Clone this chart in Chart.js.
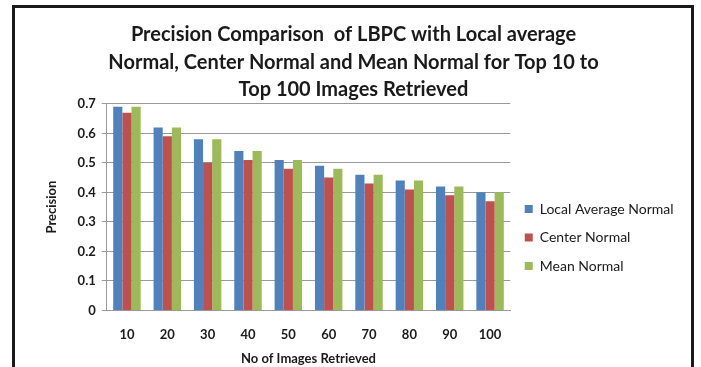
<!DOCTYPE html>
<html lang="en">
  <head>
    <meta charset="UTF-8" />
    <title>Precision Comparison</title>
    <script src="https://cdn.jsdelivr.net/npm/chart.js"></script>
    <style>
      html, body { margin: 0; background: #fff; overflow: hidden; }
      #frame {
        position: absolute; left: 12px; top: 5px; width: 676px; height: 370px;
        border: 3px solid #1a1a1a; border-bottom: none;
      }
      #wrap { position: absolute; left: 0; top: 0; width: 701px; height: 367px; }
    </style>
  </head>
  <body>
    <div id="frame"></div>
    <div id="wrap"><canvas id="precisionChart" width="701" height="367"></canvas></div>

    <script>
      const categories = ["10", "20", "30", "40", "50", "60", "70", "80", "90", "100"];
      const localAverage = [0.69, 0.62, 0.58, 0.54, 0.51, 0.49, 0.46, 0.44, 0.42, 0.40];
      const centerNormal = [0.67, 0.59, 0.50, 0.51, 0.48, 0.45, 0.43, 0.41, 0.39, 0.37];
      const meanNormal = [0.69, 0.62, 0.58, 0.54, 0.51, 0.48, 0.46, 0.44, 0.42, 0.40];
      const titleLines = [
        "Precision Comparison  of LBPC with Local average",
        "Normal, Center Normal and Mean Normal for Top 10 to",
        "Top 100 Images Retrieved"
      ];

      const fontFamily = "Lato, 'Open Sans', sans-serif";

      // push the legend down beside the middle of the plot and give its text room
      const legendShift = {
        id: "legendShift",
        afterLayout(chart) {
          const lg = chart.legend;
          lg.top += 55;
          lg.bottom += 55;
          lg.right += 30;
          lg.width += 30;
        }
      };

      new Chart(document.getElementById("precisionChart"), {
        type: "bar",
        data: {
          labels: categories,
          datasets: [
            { label: "Local Average Normal", data: localAverage, backgroundColor: "#4f81bd" },
            { label: "Center Normal", data: centerNormal, backgroundColor: "#c0504d" },
            { label: "Mean Normal", data: meanNormal, backgroundColor: "#9bbb59" }
          ]
        },
        plugins: [legendShift],
        options: {
          responsive: false,
          animation: false,
          datasets: { bar: { categoryPercentage: 0.68, barPercentage: 1 } },
          layout: { padding: { left: 40, right: 34, top: 0, bottom: 2 } },
          plugins: {
            title: {
              display: true,
              text: titleLines,
              color: "#1a1a1a",
              font: { family: fontFamily, size: 20, weight: "bold", lineHeight: 1.38 },
              padding: { top: 21, bottom: 0 }
            },
            legend: {
              position: "right",
              labels: {
                color: "#1a1a1a",
                font: { family: fontFamily, size: 14 },
                boxWidth: 8,
                boxHeight: 8,
                padding: 14.5
              }
            },
            tooltip: { enabled: false }
          },
          scales: {
            x: {
              grid: { display: false },
              border: { color: "#999" },
              ticks: { color: "#1a1a1a", font: { family: fontFamily, size: 13, weight: "bold" }, padding: 9 },
              title: {
                display: true,
                text: "No of Images Retrieved",
                color: "#1a1a1a",
                font: { family: fontFamily, size: 13, weight: "bold", lineHeight: 1 },
                padding: { top: 0, bottom: 0 }
              }
            },
            y: {
              min: 0,
              max: 0.7,
              ticks: {
                stepSize: 0.1,
                color: "#1a1a1a",
                font: { family: fontFamily, size: 13, weight: "bold" },
                padding: 6,
                callback: (v) => (v === 0 ? "0" : v.toFixed(1))
              },
              grid: { color: "#999", tickLength: 5 },
              border: { color: "#999" },
              title: {
                display: true,
                text: "Precision",
                color: "#1a1a1a",
                font: { family: fontFamily, size: 13, weight: "bold" },
                padding: { bottom: 12 }
              }
            }
          }
        }
      });
    </script>
  </body>
</html>
